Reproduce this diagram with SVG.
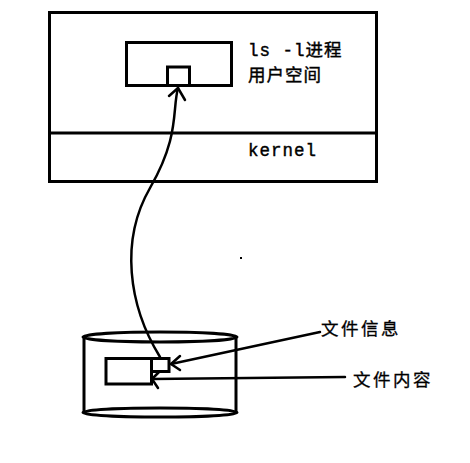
<svg xmlns="http://www.w3.org/2000/svg" width="470" height="463" viewBox="0 0 470 463">
<style>
.s{fill:none;stroke:#000;stroke-width:3}
.a{fill:none;stroke:#000;stroke-width:2.5;stroke-linecap:round;stroke-linejoin:round}
.t{font-family:"Liberation Mono","Noto Sans CJK SC",monospace;font-size:17.5px;fill:#000;stroke:#000;stroke-width:0.4;letter-spacing:1px}
.c{font-family:"Noto Sans CJK SC",sans-serif;font-size:17.5px;fill:#000;stroke:#000;stroke-width:0.3;letter-spacing:2.5px}
</style>
<rect width="470" height="463" fill="#fff"/>
<g id="host">
<rect class="s" x="49.5" y="12.5" width="327" height="169"/>
<line class="s" x1="49.5" y1="133" x2="376.5" y2="133"/>
<text class="t" x="248" y="56">ls -l进程</text>
<text class="t" x="248" y="81">用户空间</text>
<text class="t" x="248" y="156">kernel</text>
</g>
<g id="process">
<rect class="s" x="126.5" y="42.5" width="105" height="43"/>
<rect class="s" x="167.5" y="67" width="22" height="18.5"/>
</g>
<g id="disk">
<ellipse class="s" cx="160" cy="337" rx="77" ry="5"/>
<line class="s" x1="84" y1="337" x2="84" y2="412"/>
<line class="s" x1="236" y1="337" x2="236" y2="412"/>
<ellipse class="s" cx="160" cy="412.5" rx="77" ry="4.5"/>
<rect class="s" x="106" y="358.5" width="45.5" height="25.5"/>
<rect class="s" x="151.5" y="358.5" width="17.5" height="13"/>
</g>
<g id="labels">
<text class="c" x="321" y="335">文件信息</text>
<text class="c" x="353" y="386">文件内容</text>
</g>
<g id="connectors">
<path class="a" d="M160,357 C128,305 120,240 150,188 S172,110 178,88"/>
<path class="a" d="M169,96 L178,88 L185,100"/>
<line class="a" x1="320" y1="332" x2="171" y2="364"/>
<path class="a" d="M180,356 L171,364 L180,370"/>
<line class="a" x1="345" y1="377" x2="152" y2="379"/>
<path class="a" d="M159,372 L152,379 L158,388"/>
<rect x="240" y="257" width="2" height="2" fill="#000"/>
</g>
</svg>
